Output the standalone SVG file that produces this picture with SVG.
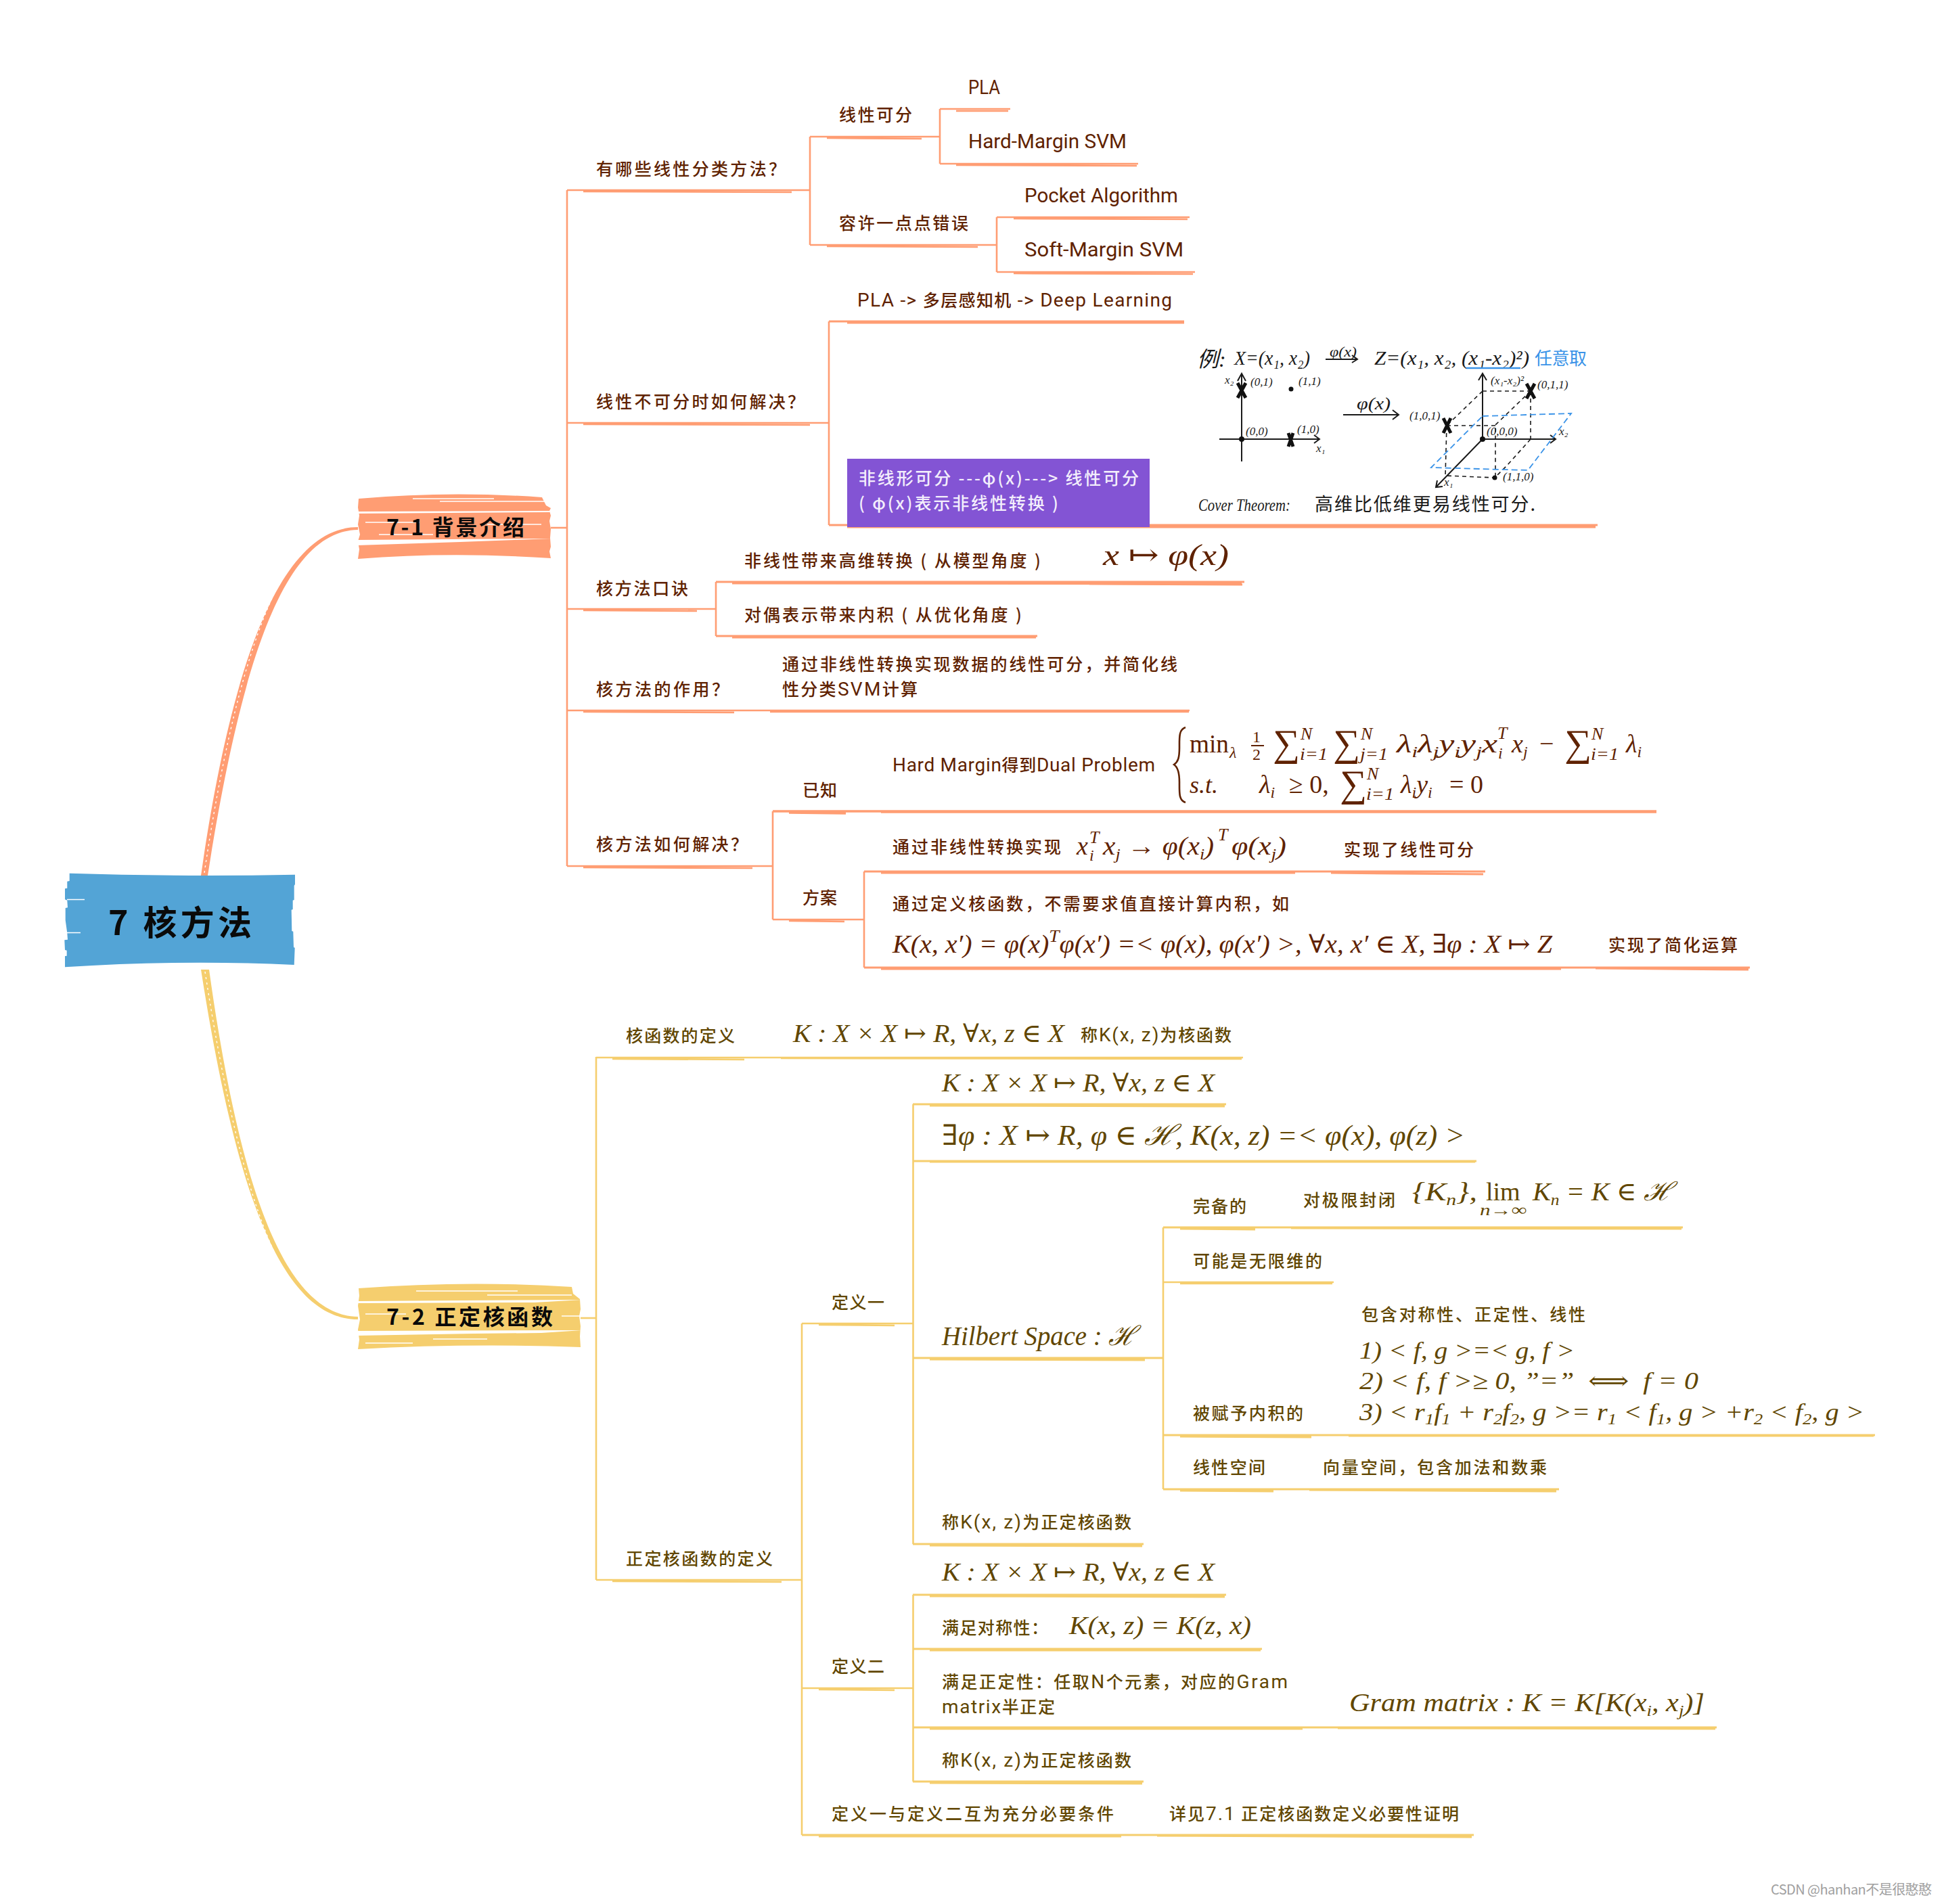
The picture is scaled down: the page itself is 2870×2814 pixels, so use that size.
<svg xmlns="http://www.w3.org/2000/svg" width="2870" height="2814" viewBox="0 0 2870 2814">
<style>
text{font-family:"Noto Sans CJK SC","Noto Sans",sans-serif;white-space:pre}
.o{fill:#5f2200;font-size:25px;font-weight:500}
.y{fill:#614600;font-size:25px;font-weight:500}
.l{font-family:Roboto,"Noto Sans CJK SC",sans-serif;font-size:30px;font-weight:400}
.a{font-family:Roboto,"Noto Sans CJK SC",sans-serif;font-size:28px;font-weight:400}
.mo,.my{font-family:"Liberation Serif","DejaVu Serif","Noto Sans CJK SC",serif;font-style:italic;font-weight:400}
.mo{fill:#5f2200}.my{fill:#614600}
.r{font-style:normal}
.co,.cy{fill:none;stroke-width:2.6;stroke-linejoin:round}
.co{stroke:#ff9d73}.cy{stroke:#f5ce6e}
.st{fill:none;stroke:#fff;stroke-width:1.4}
.h{font-family:"Liberation Serif","Noto Sans CJK SC",serif;font-style:italic;fill:#1a1a1a}
.hs{font-family:"Liberation Serif",serif;font-style:italic;fill:#1a1a1a;font-size:17px}
.ink{fill:none;stroke:#1a1a1a;stroke-width:2}
.dash{fill:none;stroke:#1a1a1a;stroke-width:1.6;stroke-dasharray:6 5}
.bd{fill:none;stroke:#3a93e8;stroke-width:1.8;stroke-dasharray:9 5}
.x{fill:none;stroke:#111;stroke-width:5}
.b{font-weight:700;fill:#0a0a0a}
</style>
<rect width="2870" height="2814" fill="#fff"/>

<g id="connectors">
<path d="M297 1294C345 960 420 779 529 779L529 783C424 785 359 962 307 1294Z" fill="#ff9d73"/>
<path d="M302 1290C350 965 420 785 500 782" class="st" stroke-dasharray="3 5"/>
<path d="M297 1433C345 1740 410 1950 529 1950L529 1946C416 1944 352 1740 309 1433Z" fill="#f5ce6e"/>
<path d="M303 1436C350 1740 412 1942 500 1946" class="st" stroke-dasharray="3 5"/>
<g class="co">
<path d="M814 780H838"/>
<path d="M838 281V1280"/>
<path d="M838 281H1197M862 283L1170 284"/>
<path d="M838 625H1224M862 627L1197 628"/>
<path d="M838 900H1058M862 902L1030 903"/>
<path d="M838 1050H1758M862 1052L1085 1053M1138 1052L1757 1052"/>
<path d="M838 1280H1142M862 1282L1112 1283"/>
<path d="M1197 202V362"/>
<path d="M1197 202H1389M1222 204L1362 205"/>
<path d="M1197 362H1473M1222 364L1445 365"/>
<path d="M1389 161V242"/>
<path d="M1389 161H1493M1413 164L1490 164"/>
<path d="M1389 242H1682M1413 244L1680 245"/>
<path d="M1473 321V402"/>
<path d="M1473 321H1758M1498 323L1755 324"/>
<path d="M1473 402H1766M1498 404L1763 405"/>
<path d="M1225 475V776"/>
<path d="M1225 475H1750M1252 477L1750 477" stroke-width="3.2"/>
<path d="M1225 776H2361M1252 779L2358 779" stroke-width="3.2"/>
<path d="M1058 860V940"/>
<path d="M1058 860H1839M1082 862L1835 863M1610 863L1836 864" stroke-width="3"/>
<path d="M1058 940H1533M1082 942L1531 942" stroke-width="3"/>
<path d="M1142 1199V1359"/>
<path d="M1142 1199H2448M1166 1201L1250 1202M1302 1200L2448 1200" stroke-width="3.4"/>
<path d="M1142 1359H1277M1166 1361L1248 1362"/>
<path d="M1277 1288V1430"/>
<path d="M1277 1288H2195M1302 1290L1914 1290M1967 1290L2192 1292" stroke-width="3.2"/>
<path d="M1277 1430H2586M1302 1432L2307 1432M2358 1431L2584 1433" stroke-width="3.2"/>
</g>
<g class="cy">
<path d="M858 1948H881"/>
<path d="M881 1562V2335"/>
<path d="M881 1563H1837M905 1565L1100 1566M1154 1564L1835 1565"/>
<path d="M881 2335H1185M905 2337L1155 2338"/>
<path d="M1185 1956V2712"/>
<path d="M1185 1956H1349M1210 1958L1322 1959"/>
<path d="M1185 2495H1349M1210 2497L1322 2498"/>
<path d="M1185 2712H2178M1210 2714L1657 2714M1710 2713L2175 2715" stroke-width="3"/>
<path d="M1349.500 1632V2282"/>
<path d="M1349 1632H1812M1374 1634L1810 1635" stroke-width="3"/>
<path d="M1349 1716H2182M1374 1717L2180 1717" stroke-width="3"/>
<path d="M1349 2007H1719M1374 2009L1692 2010" stroke-width="3"/>
<path d="M1349 2282H1690M1374 2284L1688 2285" stroke-width="3"/>
<path d="M1719 1814V2201"/>
<path d="M1719 1814H2487M1744 1816L1855 1817M1908 1815L2485 1816" stroke-width="3"/>
<path d="M1719 1895H1971M1744 1897L1969 1897"/>
<path d="M1719 2121H2771M1744 2123L1938 2124M1993 2122L2769 2122" stroke-width="3"/>
<path d="M1719 2201H2304M1744 2203L1882 2204M1935 2202L2300 2204" stroke-width="3"/>
<path d="M1349.500 2357V2633"/>
<path d="M1349 2357H1812M1374 2359L1810 2360" stroke-width="3"/>
<path d="M1349 2437H1865M1374 2439L1863 2439" stroke-width="3"/>
<path d="M1349 2553H2537M1374 2555L1925 2555M1977 2554L2535 2555" stroke-width="3"/>
<path d="M1349 2633H1690M1374 2635L1688 2636" stroke-width="3"/>
</g>
</g>

<g id="root">
<path fill="#53a4d6" d="M102.700 1290.700Q270 1296 436 1292.700L436 1307L434.700 1309L434.700 1330L432.700 1330.700L432.700 1344L430.700 1344.700L431 1360L431.300 1376L433.300 1376.700L434 1400L435.700 1400.700L434.700 1426Q270 1418 96 1429.300L96 1413L98.700 1412.700L98.700 1404.700L96 1404L95.300 1389.300L100 1388.700L99.300 1378.700L96.700 1360L96.700 1342L100 1341.300L99.300 1330.700L96 1329.300L96 1313.300L99.300 1312.700L99.300 1302.700L102.700 1302Z"/>
<path class="st" d="M99 1329.500H125M99 1378.500H119"/>
<text x="160" y="1382" font-size="50" class="b" textLength="212">7 核方法</text>
</g>

<g id="branch-7-1">
<path fill="#ff9d73" d="M530 737Q665 725 801 735L807 747L814 751L812 755L814 762L812 770L814 782L813 795L814 808L812 815L814 825Q665 815 529 826L531 812L529 800L532 790L529 775L531 762L529 750Z"/>
<path fill="#fff" d="M527 756L815 755L812 757L527 759ZM527 798L815 796L760 798L680 801L527 806Z"/>
<path class="st" d="M610 737H730M650 741H810M540 772H620M720 775H800M560 790H640"/>
<text x="571" y="791" font-size="32" class="b" textLength="204">7-1 背景介绍</text>
</g>

<g id="branch-7-2">
<path fill="#f5ce6e" d="M530 1904Q691 1892 845 1902L847 1912L857 1920L858 1935L856 1945L858 1960L857 1975L858 1991Q691 1985 529 1994L531 1980L529 1965L532 1950L529 1930L531 1915Z"/>
<path fill="#fff" d="M527 1923L860 1921L790 1925L527 1926ZM527 1967L860 1966L800 1970L700 1971L527 1974Z"/>
<path class="st" d="M615 1908H765M720 1914H845M540 1942H600M830 1945H858M540 1985H610M640 1979H720"/>
<text x="571" y="1958" font-size="32" class="b" textLength="246">7-2 正定核函数</text>
</g>

<g id="n-linear-methods"><text class="o" x="881" y="259" textLength="280">有哪些线性分类方法？</text></g>
<g id="n-separable"><text class="o" x="1240" y="179" textLength="108">线性可分</text></g>
<g id="n-pla"><text class="o l" x="1431" y="139" textLength="47" lengthAdjust="spacingAndGlyphs">PLA</text></g>
<g id="n-hard"><text class="o l" x="1431" y="219" textLength="234" lengthAdjust="spacingAndGlyphs">Hard-Margin SVM</text></g>
<g id="n-tolerate"><text class="o" x="1240" y="339" textLength="191">容许一点点错误</text></g>
<g id="n-pocket"><text class="o l" x="1514" y="299" textLength="227" lengthAdjust="spacingAndGlyphs">Pocket Algorithm</text></g>
<g id="n-soft"><text class="o l" x="1514" y="379" textLength="235" lengthAdjust="spacingAndGlyphs">Soft-Margin SVM</text></g>
<g id="n-nonsep"><text class="o" x="881" y="603" textLength="308">线性不可分时如何解决？</text></g>
<g id="n-dl"><text class="o" x="1267" y="453" textLength="465"><tspan class="a">PLA -&gt; </tspan>多层感知机<tspan class="a"> -&gt; Deep Learning</tspan></text></g>
<g id="n-purple">
<rect x="1252" y="678" width="447" height="101" fill="#8354d4"/>
<text font-size="25" font-weight="500" fill="#f3eefc"><tspan x="1269" y="716" textLength="414">非线形可分 ---φ(x)---&gt; 线性可分</tspan><tspan x="1269" y="753" textLength="295">( φ(x)表示非线性转换 )</tspan></text>
</g>

<g id="n-sketch">
<text class="h" x="1769" y="542" font-size="32">例:</text>
<text class="h" x="1824" y="539" font-size="30" textLength="112" lengthAdjust="spacingAndGlyphs">X=(x₁, x₂)</text>
<text class="h" x="1965" y="527" font-size="22" textLength="40" lengthAdjust="spacingAndGlyphs">φ(x)</text>
<path class="ink" d="M1959 531H2005M1998 525L2006 531L1998 536"/>
<text class="h" x="2031" y="539" font-size="30" textLength="229" lengthAdjust="spacingAndGlyphs">Z=(x₁, x₂, (x₁-x₂)²)</text>
<text x="2268" y="539" font-size="26" fill="#3a93e8" textLength="77">任意取</text>
<path d="M2167 544H2247" stroke="#3a93e8" stroke-width="2.4"/>
<path class="ink" d="M1835 552V682M1802 649H1950M1829 563L1835 552L1841 563M1942 643L1950 649L1942 655"/>
<path class="x" d="M1829 566L1841 588M1841 566L1829 588M1904 640L1911 660M1911 640L1904 660"/>
<circle cx="1908" cy="575" r="3.500" fill="#111"/><circle cx="1835" cy="649" r="4" fill="#111"/>
<text class="hs" x="1810" y="567">x₂</text><text class="hs" x="1848" y="570">(0,1)</text><text class="hs" x="1919" y="569">(1,1)</text>
<text class="hs" x="1841" y="643">(0,0)</text><text class="hs" x="1917" y="640">(1,0)</text><text class="hs" x="1945" y="668">x₁</text>
<text class="h" x="2005" y="605" font-size="26" textLength="50" lengthAdjust="spacingAndGlyphs">φ(x)</text>
<path class="ink" d="M1985 613H2067M2058 606L2067 613L2058 620"/>
<path class="ink" d="M2191 552V649M2191 649H2299M2191 649L2122 720M2185 562L2191 552L2197 562M2291 643L2299 649L2291 655M2132 719L2122 720L2124 710"/>
<path class="dash" d="M2191 578H2262M2262 578V649M2262 578L2210 628V706M2191 578L2138 629M2138 629H2210M2138 629L2136 703L2209 706M2262 649L2228 687L2209 706"/>
<path class="bd" d="M2191 615L2322 611L2258 695L2115 691Z"/>
<path class="x" d="M2133 618L2144 640M2144 618L2133 640M2256 567L2268 589M2268 567L2256 589"/>
<circle cx="2209" cy="706" r="3.500" fill="#111"/><circle cx="2191" cy="649" r="4" fill="#111"/>
<text class="hs" x="2203" y="568">(x₁-x₂)²</text><text class="hs" x="2272" y="574">(0,1,1)</text><text class="hs" x="2083" y="620">(1,0,1)</text>
<text class="hs" x="2197" y="643">(0,0,0)</text><text class="hs" x="2304" y="643">x₂</text><text class="hs" x="2221" y="710">(1,1,0)</text><text class="hs" x="2134" y="718">x₁</text>
<text class="h" x="1771" y="755" font-size="26" textLength="136" lengthAdjust="spacingAndGlyphs">Cover Theorem:</text>
<text x="1943" y="755" font-size="27" fill="#1a1a1a" textLength="326">高维比低维更易线性可分.</text>
</g>

<g id="n-kernel-rhyme"><text class="o" x="881" y="879" textLength="136">核方法口诀</text></g>
<g id="n-rhyme1"><text class="o" x="1100" y="838" textLength="438">非线性带来高维转换 ( 从模型角度 )</text>
<text class="mo" x="1630" y="835" font-size="44" textLength="186" lengthAdjust="spacingAndGlyphs">x ↦ φ(x)</text></g>
<g id="n-rhyme2"><text class="o" x="1100" y="918" textLength="410">对偶表示带来内积 ( 从优化角度 )</text></g>
<g id="n-use"><text class="o" x="881" y="1028" textLength="196">核方法的作用？</text></g>
<g id="n-use-text"><text class="o"><tspan x="1156" y="991" textLength="584">通过非线性转换实现数据的线性可分，并简化线</tspan><tspan x="1156" y="1028" textLength="200">性分类<tspan class="a">SVM</tspan>计算</tspan></text></g>
<g id="n-how"><text class="o" x="881" y="1257" textLength="224">核方法如何解决？</text></g>
<g id="n-known"><text class="o" x="1186" y="1177" textLength="51">已知</text></g>
<g id="n-dual">
<text class="o" x="1319" y="1140" textLength="388"><tspan class="a">Hard Margin</tspan>得到<tspan class="a">Dual Problem</tspan></text>
<path d="M1752 1075C1742 1078 1743 1090 1743 1105C1743 1120 1741 1126 1735 1130C1741 1134 1743 1142 1743 1156C1743 1172 1742 1183 1752 1186" fill="none" stroke="#5f2200" stroke-width="2.600"/>
<text class="mo r" x="1758" y="1112" font-size="38" textLength="58" lengthAdjust="spacingAndGlyphs">min</text><text class="mo" x="1817" y="1120" font-size="24">λ</text>
<text class="mo r" x="1851" y="1097" font-size="24">1</text><path d="M1849 1102H1868" stroke="#5f2200" stroke-width="2"/><text class="mo r" x="1851" y="1123" font-size="24">2</text>
<text class="mo r" x="1881" y="1117" font-size="56">∑</text><text class="mo" x="1922" y="1093" font-size="26">N</text><text class="mo" x="1921" y="1123" font-size="25" textLength="41" lengthAdjust="spacingAndGlyphs">i=1</text>
<text class="mo r" x="1970" y="1117" font-size="56">∑</text><text class="mo" x="2011" y="1093" font-size="26">N</text><text class="mo" x="2010" y="1123" font-size="25" textLength="41" lengthAdjust="spacingAndGlyphs">j=1</text>
<text class="mo" x="2064" y="1112" font-size="38" textLength="149" lengthAdjust="spacingAndGlyphs">λ<tspan dy="7" font-size="24">i</tspan><tspan dy="-7">λ</tspan><tspan dy="7" font-size="24">j</tspan><tspan dy="-7">y</tspan><tspan dy="7" font-size="24">i</tspan><tspan dy="-7">y</tspan><tspan dy="7" font-size="24">j</tspan><tspan dy="-7">x</tspan></text>
<text class="mo" x="2213" y="1092" font-size="26">T</text><text class="mo" x="2214" y="1121" font-size="24">i</text>
<text class="mo" x="2234" y="1112" font-size="38">x<tspan dy="7" font-size="24">j</tspan></text>
<text class="mo r" x="2275" y="1112" font-size="38">−</text>
<text class="mo r" x="2312" y="1117" font-size="56">∑</text><text class="mo" x="2352" y="1093" font-size="26">N</text><text class="mo" x="2351" y="1123" font-size="25" textLength="41" lengthAdjust="spacingAndGlyphs">i=1</text>
<text class="mo" x="2403" y="1112" font-size="38">λ<tspan dy="7" font-size="24">i</tspan></text>
<text class="mo" x="1758" y="1172" font-size="36">s.t.</text>
<text class="mo" x="1861" y="1172" font-size="38">λ<tspan dy="7" font-size="24">i</tspan></text>
<text class="mo r" x="1905" y="1172" font-size="38">≥ 0,</text>
<text class="mo r" x="1980" y="1177" font-size="56">∑</text><text class="mo" x="2020" y="1152" font-size="26">N</text><text class="mo" x="2019" y="1182" font-size="25" textLength="41" lengthAdjust="spacingAndGlyphs">i=1</text>
<text class="mo" x="2070" y="1172" font-size="38">λ<tspan dy="7" font-size="24">i</tspan><tspan dy="-7">y</tspan><tspan dy="7" font-size="24">i</tspan></text>
<text class="mo r" x="2142" y="1172" font-size="38">= 0</text>
</g>
<g id="n-plan"><text class="o" x="1186" y="1336" textLength="51">方案</text></g>
<g id="n-plan1">
<text class="o" x="1319" y="1261" textLength="249">通过非线性转换实现</text>
<text class="mo" x="1591" y="1263" font-size="38">x</text><text class="mo" x="1610" y="1246" font-size="26">T</text><text class="mo" x="1610" y="1272" font-size="24">i</text>
<text class="mo" x="1630" y="1263" font-size="38" textLength="164" lengthAdjust="spacingAndGlyphs">x<tspan dy="7" font-size="24">j</tspan><tspan dy="-7" class="r"> → </tspan>φ(x<tspan dy="7" font-size="24">i</tspan><tspan dy="-7">)</tspan></text>
<text class="mo" x="1800" y="1242" font-size="26">T</text>
<text class="mo" x="1820" y="1263" font-size="38" textLength="81" lengthAdjust="spacingAndGlyphs">φ(x<tspan dy="7" font-size="24">j</tspan><tspan dy="-7">)</tspan></text>
<text class="o" x="1986" y="1265" textLength="192">实现了线性可分</text>
</g>
<g id="n-plan2">
<text class="o" x="1319" y="1345" textLength="586">通过定义核函数，不需要求值直接计算内积，如</text>
<text class="mo" x="1319" y="1408" font-size="38" textLength="975" lengthAdjust="spacingAndGlyphs">K(x, x′) = φ(x)<tspan dy="-16" font-size="26">T</tspan><tspan dy="16">φ(x′) =&lt; φ(x), φ(x′) &gt;, ∀x, x′ ∈ X, ∃φ : X ↦ Z</tspan></text>
<text class="o" x="2377" y="1406" textLength="191">实现了简化运算</text>
</g>

<g id="n-kdef">
<text class="y" x="925" y="1540" textLength="161">核函数的定义</text>
<text class="my" x="1172" y="1540" font-size="38" textLength="401" lengthAdjust="spacingAndGlyphs">K : X × X ↦ R, ∀x, z ∈ X</text>
<text class="y" x="1597" y="1539" textLength="223">称<tspan class="a">K(x, z)</tspan>为核函数</text>
</g>
<g id="n-pd"><text class="y" x="925" y="2313" textLength="217">正定核函数的定义</text></g>
<g id="n-def1"><text class="y" x="1229" y="1934" textLength="78">定义一</text></g>
<g id="n-d1a"><text class="my" x="1392" y="1613" font-size="38" textLength="403" lengthAdjust="spacingAndGlyphs">K : X × X ↦ R, ∀x, z ∈ X</text></g>
<g id="n-d1b"><text class="my" x="1392" y="1692" font-size="42" textLength="773" lengthAdjust="spacingAndGlyphs">∃φ : X ↦ R, φ ∈ ℋ, K(x, z) =&lt; φ(x), φ(z) &gt;</text></g>
<g id="n-hilbert"><text class="my" x="1392" y="1988" font-size="40" textLength="287" lengthAdjust="spacingAndGlyphs">Hilbert Space : ℋ</text></g>
<g id="n-complete">
<text class="y" x="1763" y="1792" textLength="79">完备的</text>
<text class="y" x="1926" y="1783" textLength="136">对极限封闭</text>
<text class="my" x="2087" y="1774" font-size="38" textLength="96" lengthAdjust="spacingAndGlyphs">{K<tspan dy="7" font-size="24">n</tspan><tspan dy="-7">},</tspan></text>
<text class="my"><tspan class="r" x="2196" y="1774" font-size="38">lim</tspan><tspan x="2187" y="1796" font-size="24" textLength="69" lengthAdjust="spacingAndGlyphs">n→∞</tspan></text>
<text class="my" x="2265" y="1774" font-size="38" textLength="206" lengthAdjust="spacingAndGlyphs">K<tspan dy="7" font-size="24">n</tspan><tspan dy="-7"> = K ∈ ℋ</tspan></text>
</g>
<g id="n-infinite"><text class="y" x="1763" y="1873" textLength="191">可能是无限维的</text></g>
<g id="n-inner">
<text class="y" x="1763" y="2098" textLength="163">被赋予内积的</text>
<text class="y" x="2012" y="1952" textLength="331">包含对称性、正定性、线性</text>
<text class="my" x="2009" y="2008" font-size="36" textLength="318" lengthAdjust="spacingAndGlyphs">1) &lt; f, g &gt;=&lt; g, f &gt;</text>
<text class="my" x="2009" y="2053" font-size="36" textLength="501" lengthAdjust="spacingAndGlyphs">2) &lt; f, f &gt;≥ 0, ”=”  ⟺  f = 0</text>
<text class="my" x="2009" y="2099" font-size="36" textLength="746" lengthAdjust="spacingAndGlyphs">3) &lt; r<tspan dy="6" font-size="24">1</tspan><tspan dy="-6">f</tspan><tspan dy="6" font-size="24">1</tspan><tspan dy="-6"> + r</tspan><tspan dy="6" font-size="24">2</tspan><tspan dy="-6">f</tspan><tspan dy="6" font-size="24">2</tspan><tspan dy="-6">, g &gt;= r</tspan><tspan dy="6" font-size="24">1</tspan><tspan dy="-6"> &lt; f</tspan><tspan dy="6" font-size="24">1</tspan><tspan dy="-6">, g &gt; +r</tspan><tspan dy="6" font-size="24">2</tspan><tspan dy="-6"> &lt; f</tspan><tspan dy="6" font-size="24">2</tspan><tspan dy="-6">, g &gt;</tspan></text>
</g>
<g id="n-vector">
<text class="y" x="1763" y="2178" textLength="107">线性空间</text>
<text class="y" x="1955" y="2178" textLength="331">向量空间，包含加法和数乘</text>
</g>
<g id="n-d1c"><text class="y" x="1392" y="2259" textLength="280">称<tspan class="a">K(x, z)</tspan>为正定核函数</text></g>
<g id="n-def2"><text class="y" x="1229" y="2472" textLength="78">定义二</text></g>
<g id="n-d2a"><text class="my" x="1392" y="2336" font-size="38" textLength="403" lengthAdjust="spacingAndGlyphs">K : X × X ↦ R, ∀x, z ∈ X</text></g>
<g id="n-d2b">
<text class="y" x="1392" y="2415" textLength="157">满足对称性：</text>
<text class="my" x="1580" y="2415" font-size="38" textLength="269" lengthAdjust="spacingAndGlyphs">K(x, z) = K(z, x)</text>
</g>
<g id="n-d2c">
<text class="y"><tspan x="1392" y="2495" textLength="511">满足正定性：任取<tspan class="a">N</tspan>个元素，对应的<tspan class="a">Gram</tspan></tspan><tspan x="1392" y="2532" textLength="167"><tspan class="a">matrix</tspan>半正定</tspan></text>
<text class="my" x="1994" y="2529" font-size="38" textLength="525" lengthAdjust="spacingAndGlyphs">Gram matrix : K = K[K(x<tspan dy="7" font-size="24">i</tspan><tspan dy="-7">, x</tspan><tspan dy="7" font-size="24">j</tspan><tspan dy="-7">)]</tspan></text>
</g>
<g id="n-d2d"><text class="y" x="1392" y="2611" textLength="280">称<tspan class="a">K(x, z)</tspan>为正定核函数</text></g>
<g id="n-equiv">
<text class="y" x="1229" y="2690" textLength="417">定义一与定义二互为充分必要条件</text>
<text class="y" x="1728" y="2690" textLength="428">详见<tspan class="a">7.1</tspan> 正定核函数定义必要性证明</text>
</g>
<text x="2617" y="2800" font-size="20" fill="#a0a0a0" font-family="Liberation Sans,Noto Sans CJK SC,sans-serif" textLength="238">CSDN @hanhan不是很憨憨</text>
</svg>
